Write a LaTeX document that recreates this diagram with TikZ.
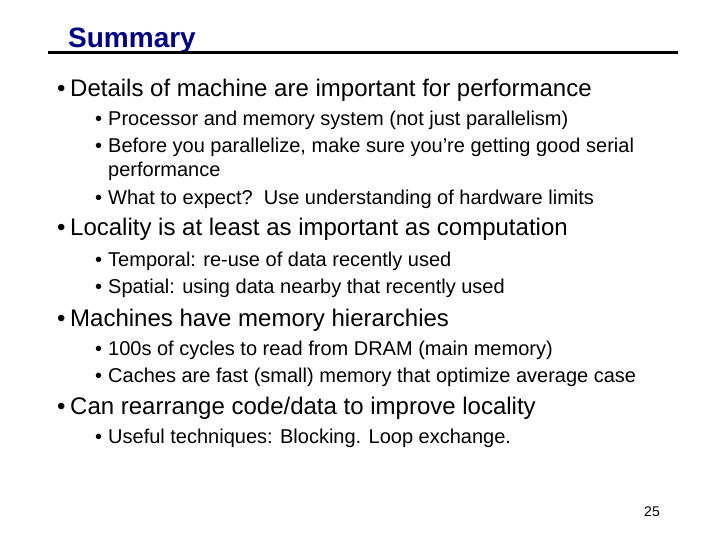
\documentclass[tikz,border=0pt]{standalone}
\usepackage{fontspec}
\setmainfont{Liberation Sans}
\definecolor{titleblue}{RGB}{0,0,128}
\newcommand{\mainpoint}[3]{%
  \node [mainitem] (#1b) at (57,#2) {\textbullet};
  \node [mainitem] (#1) at (70,#2) {#3};}
\newcommand{\subpoint}[3]{%
  \node [subitem] (#1b) at (95,#2) {\textbullet};
  \node [subitem] (#1) at (108,#2) {#3};}
\begin{document}
\begin{tikzpicture}[x=1pt,y=-1pt,
    mainitem/.style={anchor=base west, inner sep=0pt, font=\fontsize{24}{28}\selectfont},
    subitem/.style={anchor=base west, inner sep=0pt, font=\fontsize{20}{24}\selectfont}]
\useasboundingbox (0,0) rectangle (720,540);
\node [anchor=base west, inner sep=0pt, font=\fontsize{28}{32}\bfseries, text=titleblue] (title) at (68,48) {Summary};
\draw [line width=3pt] (48,53) -- (678,53);
% first point
\mainpoint{m1}{97}{Details of machine are important for performance}
\subpoint{s11}{126}{Processor and memory system (not just parallelism)}
\subpoint{s12}{153}{Before you parallelize, make sure you’re getting good serial}
\node [subitem] (s12c) at (108,177) {performance};
\subpoint{s13}{205}{What to expect?\ \ Use understanding of hardware limits}
% second point
\mainpoint{m2}{236}{Locality is at least as important as computation}
\subpoint{s21}{266}{Temporal: re-use of data recently used}
\subpoint{s22}{293}{Spatial: using data nearby that recently used}
% third point
\mainpoint{m3}{326}{Machines have memory hierarchies}
\subpoint{s31}{355}{100s of cycles to read from DRAM (main memory)}
\subpoint{s32}{382}{Caches are fast (small) memory that optimize average case}
% fourth point
\mainpoint{m4}{414}{Can rearrange code/data to improve locality}
\subpoint{s41}{443}{Useful techniques: Blocking. Loop exchange.}
\node [anchor=base east, inner sep=0pt, font=\fontsize{14}{16}\selectfont] (page) at (660,516) {25};
\end{tikzpicture}
\end{document}
